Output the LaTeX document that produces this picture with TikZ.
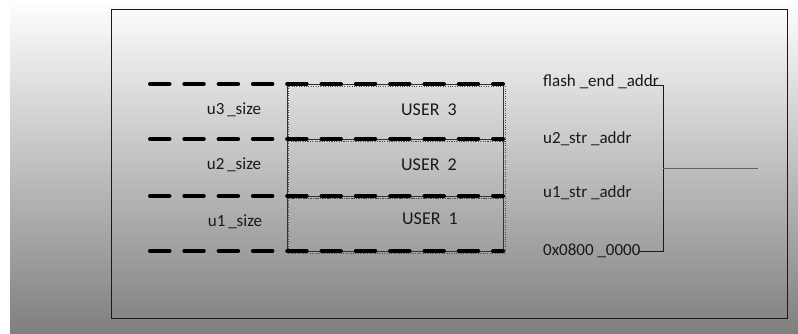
\documentclass[tikz,border=0pt]{standalone}
\usepackage{fontspec}
\setmainfont{Carlito}
\usetikzlibrary{positioning}
\definecolor{MyInk}{rgb}{0.10, 0.10, 0.10}
\definecolor{MyLineGray}{rgb}{0.38, 0.38, 0.38}
\definecolor{MyShadeGray}{rgb}{0.50, 0.50, 0.50}

\begin{document}
\begin{tikzpicture}[x=1pt, y=-1pt,
		every node/.style={font=\fontsize{17}{20}\selectfont, text=MyInk},
		boundary/.style={line width=4pt, line cap=round, dash pattern=on 19.5pt off 14.8pt},
		userbox/.style={draw=black!80, thin, minimum width=216pt, inner sep=0pt},
		dots/.style={dotted, black!70, thin},
		addr/.style={anchor=west, inner sep=0pt}]
		\useasboundingbox (0,0) rectangle (798,333);
		\shade[top color=white, bottom color=MyShadeGray] (10,0) rectangle (798,333);
		\draw[MyInk, thin] (111,9) rectangle (787,318);
		% memory blocks
		\node[userbox, minimum height=55pt] (u3box) at (395,111.5) {};
		\node[userbox, minimum height=57pt] (u2box) at (395,167.5) {};
		\node[userbox, minimum height=55pt] (u1box) at (395,223.5) {};
		\foreach \b in {u3box,u2box,u1box}
			\draw[dots] ([shift={(1.5,2)}]\b.north west) rectangle ([shift={(1.5,2)}]\b.south east);
		\foreach \y in {84,139,196,251}
			\draw[boundary] (150,\y) -- (503,\y);
		\node[font=\fontsize{18}{21}\selectfont] (u3lbl) at (429,110) {USER~~3};
		\node[font=\fontsize{18}{21}\selectfont] (u2lbl) at (429,165) {USER~~2};
		\node[font=\fontsize{18}{21}\selectfont] (u1lbl) at (430,219) {USER~~1};
		\node (u3size) at (234,110) {u3\,\_size};
		\node (u2size) at (234,165) {u2\,\_size};
		\node (u1size) at (235,222) {u1\,\_size};
		% addresses
		\node[addr] (fend) at (543,82) {flash \_end \_addr};
		\node[addr] (u2addr) at (543,139) {u2\_str \_addr};
		\node[addr] (u1addr) at (543,193) {u1\_str \_addr};
		\node[addr] (base) at (543,251) {0x0800 \_0000};
		\coordinate (btop) at (663,85);
		\coordinate (bmid) at (663,168);
		\coordinate (out) at (758,168);
		\draw[MyInk, thin] ([xshift=-8pt]fend.east |- btop) -- (btop) |- ([xshift=-3pt]base.east);
		\draw[MyLineGray, semithick] (bmid) -- (out);
	\end{tikzpicture}
\end{document}
